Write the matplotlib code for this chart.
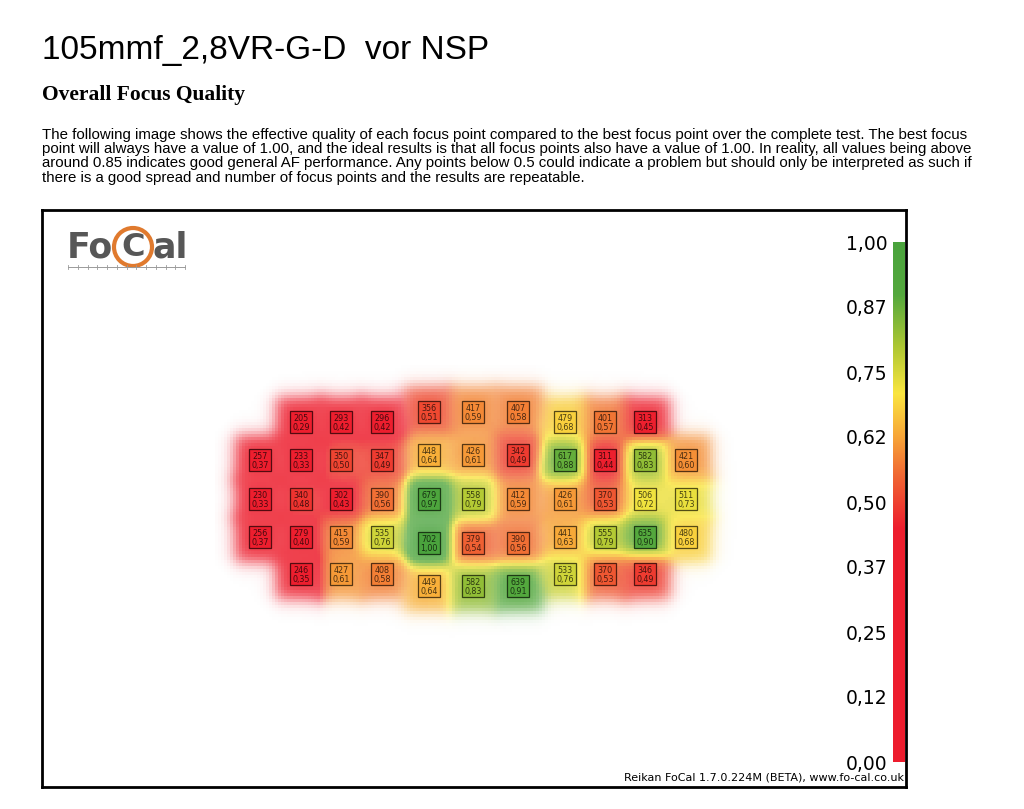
import numpy as np
import matplotlib
matplotlib.use("Agg")
import matplotlib.pyplot as plt
from matplotlib.colors import LinearSegmentedColormap
from matplotlib.patches import Rectangle, Circle

# ---------------- data ----------------
title = "105mmf_2,8VR-G-D  vor NSP"
subtitle = "Overall Focus Quality"
paragraph = [
    "The following image shows the effective quality of each focus point compared to the best focus point over the complete test. The best focus",
    "point will always have a value of 1.00, and the ideal results is that all focus points also have a value of 1.00. In reality, all values being above",
    "around 0.85 indicates good general AF performance. Any points below 0.5 could indicate a problem but should only be interpreted as such if",
    "there is a good spread and number of focus points and the results are repeatable.",
]
footer = "Reikan FoCal 1.7.0.224M (BETA), www.fo-cal.co.uk"

# focus point grid: column index, row index, AF value, relative quality
pt_col = [1, 2, 3, 0, 1, 2, 3, 0, 1, 2, 3, 0, 1, 2, 3, 1, 2, 3,
          4, 5, 6, 4, 5, 6, 4, 5, 6, 4, 5, 6, 4, 5, 6,
          7, 8, 9, 7, 8, 9, 10, 7, 8, 9, 10, 7, 8, 9, 10, 7, 8, 9]
pt_row = [0, 0, 0, 1, 1, 1, 1, 2, 2, 2, 2, 3, 3, 3, 3, 4, 4, 4,
          0, 0, 0, 1, 1, 1, 2, 2, 2, 3, 3, 3, 4, 4, 4,
          0, 0, 0, 1, 1, 1, 1, 2, 2, 2, 2, 3, 3, 3, 3, 4, 4, 4]
af_value = [205, 293, 296, 257, 233, 350, 347, 230, 340, 302, 390, 256, 279, 415, 535, 246, 427, 408,
            356, 417, 407, 448, 426, 342, 679, 558, 412, 702, 379, 390, 449, 582, 639,
            479, 401, 313, 617, 311, 582, 421, 426, 370, 506, 511, 441, 555, 635, 480, 533, 370, 346]
quality = [0.29, 0.42, 0.42, 0.37, 0.33, 0.50, 0.49, 0.33, 0.48, 0.43, 0.56, 0.37, 0.40, 0.59, 0.76, 0.35, 0.61, 0.58,
           0.51, 0.59, 0.58, 0.64, 0.61, 0.49, 0.97, 0.79, 0.59, 1.00, 0.54, 0.56, 0.64, 0.83, 0.91,
           0.68, 0.57, 0.45, 0.88, 0.44, 0.83, 0.60, 0.61, 0.53, 0.72, 0.73, 0.63, 0.79, 0.90, 0.68, 0.76, 0.53, 0.49]

cbar_ticks = [0.0, 0.125, 0.25, 0.375, 0.5, 0.625, 0.75, 0.875, 1.0]
cbar_labels = ["0,00", "0,12", "0,25", "0,37", "0,50", "0,62", "0,75", "0,87", "1,00"]

# ---------------- layout (sensor geometry in image pixels) ----------------
col_x = [260, 301, 341, 382, 429, 473, 518, 565, 605, 645, 686]
side_row_y = [422, 460, 499, 537, 574]
center_row_y = [412, 455, 499, 543, 586]

px = np.array([col_x[c] for c in pt_col], float)
py = np.array([(center_row_y if 4 <= c <= 6 else side_row_y)[r] for c, r in zip(pt_col, pt_row)], float)
q = np.array(quality)

cmap = LinearSegmentedColormap.from_list("focal", [
    (0.00, (0.93, 0.11, 0.18)),
    (0.45, (0.93, 0.12, 0.18)),
    (0.55, (0.94, 0.40, 0.20)),
    (0.63, (0.97, 0.66, 0.22)),
    (0.71, (0.98, 0.90, 0.25)),
    (0.80, (0.68, 0.78, 0.20)),
    (0.90, (0.33, 0.66, 0.24)),
    (1.00, (0.29, 0.64, 0.24)),
])

W, H = 1024, 809
fig = plt.figure(figsize=(W / 100, H / 100), dpi=100)
fig.patch.set_facecolor("white")

# header texts
fig.text(42 / W, 1 - 50 / H, title, fontsize=24, va="center", ha="left",
         family=["Liberation Sans"], color="black")
fig.text(42 / W, 1 - 95 / H, subtitle, fontsize=15.5, va="center", ha="left",
         family=["Liberation Serif"], fontweight="bold")
for i, line in enumerate(paragraph):
    fig.text(42 / W, 1 - (135 + 14.2 * i) / H, line, fontsize=10.8, va="center", ha="left",
             family=["Liberation Sans"])

# main frame axes, data coords = image pixels
ax = fig.add_axes([42 / W, (H - 787) / H, 864 / W, 577 / H])
ax.set_xlim(42, 906)
ax.set_ylim(787, 210)
ax.set_xticks([]); ax.set_yticks([])
for s in ax.spines.values():
    s.set_linewidth(2)
    s.set_color("black")

# heat field
step = 3
gx = np.arange(215, 740, step) + step / 2
gy = np.arange(365, 640, step) + step / 2
X, Y = np.meshgrid(gx, gy)
dx = X[..., None] - px
dy = Y[..., None] - py
wgt = np.exp(-(dx ** 2 + dy ** 2) / (2 * 13.0 ** 2)) + 1e-12
val = (wgt * q).sum(-1) / wgt.sum(-1)
sx = 1 / (1 + np.exp((np.abs(dx) - 25) / 4.5))
sy = 1 / (1 + np.exp((np.abs(dy) - 25) / 4.5))
alpha = 1 - np.prod(1 - sx * sy, axis=-1)
rgba = cmap(val)
rgba[..., 3] = np.clip(alpha, 0, 1) * 0.88
ax.imshow(rgba, extent=(gx[0] - step / 2, gx[-1] + step / 2, gy[-1] + step / 2, gy[0] - step / 2),
          interpolation="nearest", aspect="auto", zorder=1)

# boxes with labels
for x, y, v, qq in zip(px, py, af_value, q):
    c = np.array(cmap(qq)[:3])
    ax.add_patch(Rectangle((x - 11, y - 11), 22, 22, facecolor=c, edgecolor=c * 0.35,
                           lw=0.9, zorder=3))
    ax.text(x, y + 0.5, f"{v}\n{qq:.2f}".replace(".", ","), ha="center", va="center",
            fontsize=5.8, color=c * 0.3, linespacing=1.0, zorder=4)

# logo
logo_col = "#575757"
ax.text(67, 247, "Fo", fontsize=25, fontweight="bold", color=logo_col, va="center", ha="left",
        family=["DejaVu Sans"], zorder=5)
ax.add_patch(Circle((133, 247), 19, facecolor="none", edgecolor="#e07a2e", lw=3, zorder=5))
ax.text(133, 247, "C", fontsize=23, fontweight="bold", color=logo_col, va="center", ha="center",
        family=["DejaVu Sans"], zorder=6)
ax.text(153, 247, "al", fontsize=25, fontweight="bold", color=logo_col, va="center", ha="left",
        family=["DejaVu Sans"], zorder=5)
ax.plot([68, 185], [267, 267], color="#9a9a9a", lw=0.7, zorder=5)
for tx in np.linspace(68, 185, 13):
    ax.plot([tx, tx], [265, 269], color="#9a9a9a", lw=0.6, zorder=5)

# footer
ax.text(904, 778, footer, fontsize=8, ha="right", va="center", family=["DejaVu Sans"], zorder=5)

# colour bar
cax = fig.add_axes([893 / W, (H - 762) / H, 12 / W, 520 / H])
grad = np.linspace(0, 1, 256)[:, None]
cax.imshow(grad, cmap=cmap, aspect="auto", origin="lower", extent=(0, 1, 0, 1))
cax.set_xticks([])
cax.set_yticks(cbar_ticks)
cax.set_yticklabels(cbar_labels, fontsize=13.5)
cax.tick_params(axis="y", length=0, pad=4)
for s in cax.spines.values():
    s.set_visible(False)

fig.savefig("out.png", dpi=100, facecolor="white")
